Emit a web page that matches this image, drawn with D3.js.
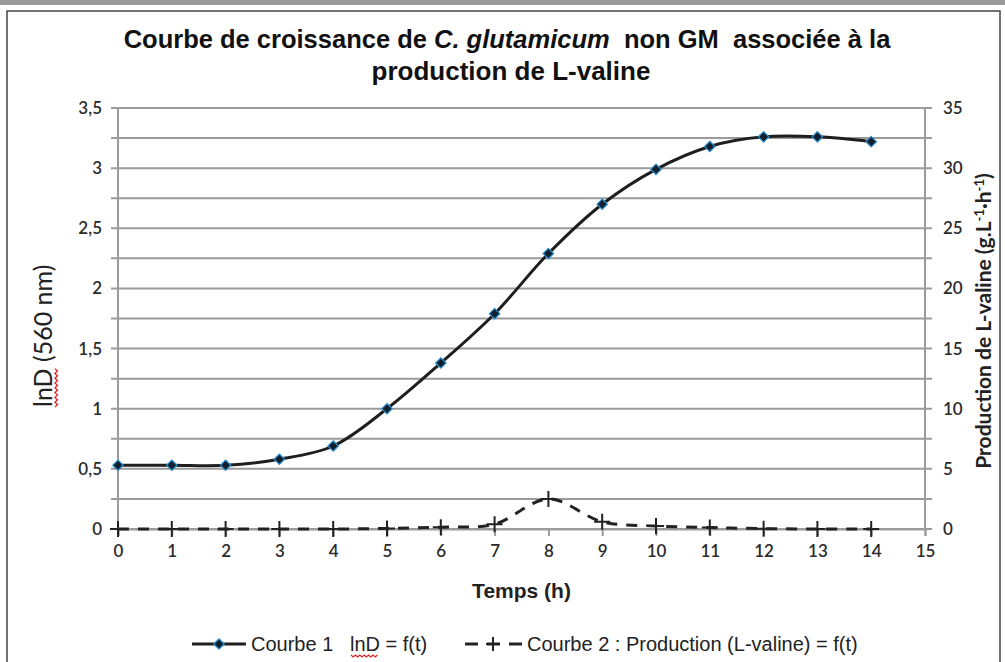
<!DOCTYPE html>
<html>
<head>
<meta charset="utf-8">
<script src="https://cdn.jsdelivr.net/npm/d3@7"></script>
<style>
  body { margin: 0; background: #fff; }
  svg { display: block; }
</style>
</head>
<body>
<div id="chart"></div>
<script>
// temps (h)
const temps = [0, 1, 2, 3, 4, 5, 6, 7, 8, 9, 10, 11, 12, 13, 14];
// Courbe 1 : lnD (560 nm)
const lnD = [0.53, 0.53, 0.53, 0.58, 0.69, 1.0, 1.38, 1.79, 2.29, 2.7, 2.99, 3.18, 3.26, 3.26, 3.22];
// Courbe 2 : production de L-valine (g.L-1.h-1)
const valine = [0, 0, 0, 0, 0, 0.05, 0.15, 0.4, 2.5, 0.6, 0.25, 0.12, 0.03, 0, 0];
const xTicks = d3.range(0, 16);
const leftTicks = [0, 0.5, 1, 1.5, 2, 2.5, 3, 3.5];
const rightTicks = [0, 5, 10, 15, 20, 25, 30, 35];

function init() {
  var W = 1005, H = 662;
  var margin = { top: 108, right: 80, bottom: 133, left: 118 },
    width = W - margin.left - margin.right,
    height = H - margin.top - margin.bottom;

  var svg = d3.select("#chart").append("svg")
    .attr("width", W).attr("height", H);

  // outer frame
  svg.append("rect").attr("x", 0).attr("y", 0).attr("width", W).attr("height", 5).attr("fill", "#9a9a9a");
  svg.append("rect")
    .attr("x", 7).attr("y", 11).attr("width", W - 12).attr("height", H)
    .attr("fill", "none").attr("stroke", "#444").attr("stroke-width", 1.5);

  var g = svg.append("g").attr("transform", "translate(" + margin.left + "," + margin.top + ")");

  var x = d3.scaleLinear().domain([0, 15]).range([0, width]);
  var yL = d3.scaleLinear().domain([0, 3.5]).range([height, 0]);
  var yR = d3.scaleLinear().domain([0, 35]).range([height, 0]);

  var tickFont = "Lato, 'Open Sans', sans-serif";
  var grey = "#9b9b9b";

  // horizontal grid lines every 0.25
  var gridVals = d3.range(0, 3.51, 0.25);
  g.append("g").selectAll("line").data(gridVals).enter().append("line")
    .attr("x1", -7).attr("x2", width + 7)
    .attr("y1", d => yL(d)).attr("y2", d => yL(d))
    .attr("stroke", grey).attr("stroke-width", 2);

  // left axis
  var leftAxis = d3.axisLeft(yL).tickValues(leftTicks).tickSize(0).tickPadding(16)
    .tickFormat(d => String(d).replace(".", ","));
  var la = g.append("g").call(leftAxis);
  la.select(".domain").remove();
  la.selectAll("text").style("font-family", tickFont).style("font-size", "17px")
    .style("font-weight", "600").attr("fill", "#2b2b2b");
  g.append("line").attr("x1", 0).attr("x2", 0).attr("y1", 0).attr("y2", height)
    .attr("stroke", grey).attr("stroke-width", 2);

  // right axis
  var rightAxis = d3.axisRight(yR).tickValues(rightTicks).tickSize(0).tickPadding(18);
  var ra = g.append("g").attr("transform", "translate(" + width + ",0)").call(rightAxis);
  ra.select(".domain").remove();
  ra.selectAll("text").style("font-family", tickFont).style("font-size", "17px")
    .style("font-weight", "600").attr("fill", "#2b2b2b");
  g.append("line").attr("x1", width).attr("x2", width).attr("y1", 0).attr("y2", height)
    .attr("stroke", grey).attr("stroke-width", 2);

  // bottom axis
  var bottomAxis = d3.axisBottom(x).tickValues(xTicks).tickSize(7).tickPadding(9);
  var ba = g.append("g").attr("transform", "translate(0," + height + ")").call(bottomAxis);
  ba.select(".domain").attr("stroke", grey).attr("stroke-width", 2);
  ba.selectAll(".tick line").attr("stroke", grey).attr("stroke-width", 2);
  ba.selectAll("text").style("font-family", tickFont).style("font-size", "17px")
    .style("font-weight", "600").attr("fill", "#2b2b2b");

  // Courbe 2 (dashed, right axis)
  var line2 = d3.line().x((d, i) => x(temps[i])).y(d => yR(d)).curve(d3.curveCatmullRom.alpha(0.5));
  g.append("path").datum(valine).attr("d", line2)
    .attr("fill", "none").attr("stroke", "#222").attr("stroke-width", 3)
    .attr("stroke-dasharray", "11,9");
  g.append("g").selectAll("path").data(valine).enter().append("path")
    .attr("transform", (d, i) => "translate(" + x(temps[i]) + "," + yR(d) + ")")
    .attr("d", "M-8,0H8M0,-8V8")
    .attr("stroke", "#222").attr("stroke-width", 2).attr("fill", "none");

  // Courbe 1 (solid, left axis)
  var line1 = d3.line().x((d, i) => x(temps[i])).y(d => yL(d)).curve(d3.curveCatmullRom.alpha(0.5));
  g.append("path").datum(lnD).attr("d", line1)
    .attr("fill", "none").attr("stroke", "#1e1e1e").attr("stroke-width", 3);
  var diamond = d3.symbol().type(d3.symbolDiamond2).size(70);
  g.append("g").selectAll("path").data(lnD).enter().append("path")
    .attr("transform", (d, i) => "translate(" + x(temps[i]) + "," + yL(d) + ")")
    .attr("d", diamond)
    .attr("fill", "#10202e").attr("stroke", "#2a8fd0").attr("stroke-width", 1.2);

  // title
  var titleFont = "'Liberation Sans', Arial, sans-serif";
  var t1 = svg.append("text").attr("x", 507).attr("y", 48).attr("text-anchor", "middle")
    .style("font-family", titleFont).style("font-size", "25.5px").style("font-weight", "bold").attr("fill", "#111");
  t1.append("tspan").text("Courbe de croissance de ");
  t1.append("tspan").style("font-style", "italic").text("C. glutamicum");
  t1.append("tspan").attr("xml:space", "preserve").text("  non GM  associée à la");
  svg.append("text").attr("x", 511).attr("y", 80).attr("text-anchor", "middle")
    .style("font-family", titleFont).style("font-size", "26px").style("font-weight", "bold").attr("fill", "#111")
    .text("production de L-valine");

  // axis titles
  var yl = svg.append("text").attr("transform", "translate(52,407) rotate(-90)").attr("text-anchor", "start")
    .style("font-family", tickFont).style("font-size", "25px").attr("fill", "#222");
  yl.append("tspan").text("lnD");
  yl.append("tspan").text(" (560 nm)");
  // red squiggle under lnD
  var sq = d3.range(0, 17).map(i => [55 + (i % 2) * 2.5, 407 - i * 2.4]);
  svg.append("path").attr("d", d3.line()(sq)).attr("fill", "none").attr("stroke", "#e02020").attr("stroke-width", 1.3);

  var yr = svg.append("text").attr("transform", "translate(991,321) rotate(-90)").attr("text-anchor", "middle")
    .style("font-family", tickFont).style("font-size", "21px").style("font-weight", "bold").attr("fill", "#222");
  yr.append("tspan").text("Production de L-valine (g.L");
  yr.append("tspan").attr("dy", -7).style("font-size", "13px").text("-1");
  yr.append("tspan").attr("dy", 7).text("·h");
  yr.append("tspan").attr("dy", -7).style("font-size", "13px").text("-1");
  yr.append("tspan").attr("dy", 7).text(")");

  svg.append("text").attr("x", margin.left + x(7.5)).attr("y", 598).attr("text-anchor", "middle")
    .style("font-family", titleFont).style("font-size", "21px").style("font-weight", "bold").attr("fill", "#222")
    .text("Temps (h)");

  // legend
  var ly = 644;
  var legFont = "20px";
  var lg = svg.append("g");
  lg.append("line").attr("x1", 192).attr("x2", 246).attr("y1", ly).attr("y2", ly)
    .attr("stroke", "#1e1e1e").attr("stroke-width", 3);
  lg.append("path").attr("transform", "translate(219," + ly + ")").attr("d", diamond)
    .attr("fill", "#10202e").attr("stroke", "#2a8fd0").attr("stroke-width", 1.2);
  lg.append("text").attr("x", 251).attr("y", ly + 7)
    .style("font-family", titleFont).style("font-size", legFont).attr("fill", "#222")
    .text("Courbe 1");
  lg.append("text").attr("x", 350).attr("y", ly + 7)
    .style("font-family", titleFont).style("font-size", legFont).attr("fill", "#222")
    .text("lnD = f(t)");
  var sq2 = d3.range(0, 13).map(i => [351 + i * 2.2, ly + 11 + (i % 2) * 2]);
  lg.append("path").attr("d", d3.line()(sq2)).attr("fill", "none").attr("stroke", "#e02020").attr("stroke-width", 1.2);
  lg.append("line").attr("x1", 465).attr("x2", 523).attr("y1", ly).attr("y2", ly)
    .attr("stroke", "#222").attr("stroke-width", 3).attr("stroke-dasharray", "13,9");
  lg.append("path").attr("transform", "translate(493," + ly + ")").attr("d", "M-7,0H7M0,-7V7")
    .attr("stroke", "#222").attr("stroke-width", 2);
  lg.append("text").attr("x", 527).attr("y", ly + 7)
    .style("font-family", titleFont).style("font-size", legFont).attr("fill", "#222")
    .text("Courbe 2 : Production (L-valine) = f(t)");
}

window.onload = init;
</script>
</body>
</html>
